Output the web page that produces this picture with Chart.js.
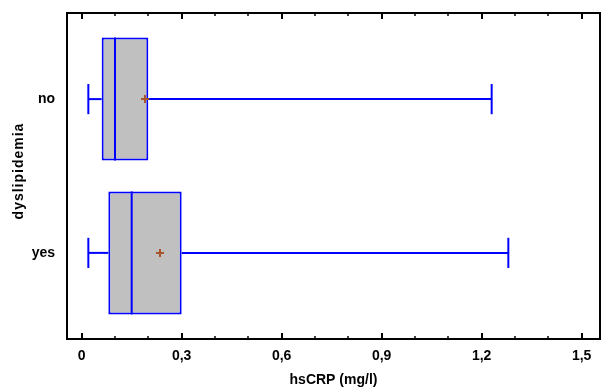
<!DOCTYPE html>
<html><head><meta charset="utf-8">
<script src="https://cdn.jsdelivr.net/npm/chart.js@4/dist/chart.umd.min.js"></script>
<style>html,body{margin:0;padding:0;background:#fff}#wrap{width:607px;height:390px}</style>
</head><body><div id="wrap"><canvas id="c" width="607" height="390"></canvas></div>
<script>
const categories = ['no', 'yes'];
const minValues = [0.02, 0.02];
const q1Values = [0.06, 0.08];
const medianValues = [0.10, 0.15];
const q3Values = [0.20, 0.30];
const maxValues = [1.23, 1.28];
const meanValues = [0.19, 0.235];
const xTickValues = [0, 0.3, 0.6, 0.9, 1.2, 1.5];
const xTickLabels = ['0', '0,3', '0,6', '0,9', '1,2', '1,5'];
const xMinorStep = 0.1;
const xMinorCount = 15;
const xTitle = 'hsCRP (mg/l)';
const yTitle = 'dyslipidemia';

const family = '"Liberation Sans", Arial, Helvetica, sans-serif';
const BLUE = '#0000FF';

const boxParts = {
  id: 'boxParts',
  afterDatasetDraw(chart, args) {
    if (args.index !== 0) return;
    const {ctx} = chart;
    const x = chart.scales.x, y = chart.scales.y;
    const line = (x1, y1, x2, y2) => { ctx.beginPath(); ctx.moveTo(x1, y1); ctx.lineTo(x2, y2); ctx.stroke(); };
    ctx.save();
    ctx.strokeStyle = BLUE;
    ctx.lineWidth = 2;
    categories.forEach((c, i) => {
      const yc = y.getPixelForValue(i);
      const capT = y.getPixelForValue(i - 0.098), capB = y.getPixelForValue(i + 0.098);
      const boxT = y.getPixelForValue(i - 0.4), boxB = y.getPixelForValue(i + 0.4);
      const pMin = x.getPixelForValue(minValues[i]);
      const pQ1 = x.getPixelForValue(q1Values[i]);
      const pQ3 = x.getPixelForValue(q3Values[i]);
      const pMax = x.getPixelForValue(maxValues[i]);
      const pMed = x.getPixelForValue(medianValues[i]);
      line(pMin, yc, pQ1, yc);
      line(pQ3, yc, pMax, yc);
      line(pMin, capT, pMin, capB);
      line(pMax, capT, pMax, capB);
      line(pMed, boxT, pMed, boxB);
    });
    ctx.restore();
  },
  afterDraw(chart) {
    const {ctx, chartArea: a} = chart;
    const x = chart.scales.x;
    ctx.save();
    ctx.strokeStyle = '#000';
    ctx.lineWidth = 2;
    ctx.strokeRect(a.left, a.top, a.right - a.left, a.bottom - a.top);
    for (let k = 0; k <= xMinorCount; k++) {
      const px = Math.round(x.getPixelForValue(k * xMinorStep));
      const major = k % 3 === 0;
      const len = major ? 6 : 3;
      ctx.lineWidth = major ? 2 : 1.5;
      ctx.beginPath();
      ctx.moveTo(px, a.bottom); ctx.lineTo(px, a.bottom - len);
      ctx.moveTo(px, a.top); ctx.lineTo(px, a.top + len);
      ctx.stroke();
    }
    ctx.translate(19.5, (a.top + a.bottom) / 2 - 5);
    ctx.rotate(-Math.PI / 2);
    ctx.font = 'bold 14px ' + family;
    try { ctx.letterSpacing = '1px'; } catch (e) {}
    ctx.fillStyle = '#000';
    ctx.textAlign = 'center';
    ctx.textBaseline = 'middle';
    ctx.fillText(yTitle, 0, 0);
    ctx.restore();
  }
};

new Chart(document.getElementById('c'), {
  data: {
    datasets: [
      {
        type: 'bar',
        indexAxis: 'y',
        order: 1,
        data: categories.map((c, i) => ({y: i, x: [q1Values[i], q3Values[i]]})),
        backgroundColor: '#C0C0C0',
        borderColor: BLUE,
        borderWidth: 2,
        borderSkipped: false,
        categoryPercentage: 0.8,
        barPercentage: 1.0
      },
      {
        type: 'scatter',
        order: 0,
        data: categories.map((c, i) => ({x: meanValues[i], y: i})),
        pointStyle: 'cross',
        radius: 4,
        borderColor: 'rgb(165,85,40)',
        backgroundColor: 'rgb(165,85,40)',
        borderWidth: 2
      }
    ]
  },
  options: {
    responsive: false,
    animation: false,
    devicePixelRatio: 1,
    layout: {padding: {left: 0, top: 13, right: 7, bottom: 0}},
    plugins: {legend: {display: false}, tooltip: {enabled: false}},
    scales: {
      x: {
        type: 'linear',
        position: 'bottom',
        offset: false,
        min: -0.044,
        max: 1.555,
        afterBuildTicks: s => { s.ticks = xTickValues.map(v => ({value: v})); },
        afterFit: s => { s.height = 51; s.paddingLeft = 0; s.paddingRight = 0; },
        ticks: {
          callback: (v, i) => xTickLabels[i],
          autoSkip: false, maxRotation: 0, padding: 9, color: '#000',
          font: {family: family, size: 14, weight: 'bold'}
        },
        grid: {display: false, drawTicks: false, offset: false},
        border: {display: false},
        title: {
          display: true, text: xTitle, color: '#000',
          font: {family: family, size: 14, weight: 'bold'},
          padding: {top: 0, bottom: 1}
        }
      },
      y: {
        type: 'linear',
        reverse: true,
        offset: false,
        min: -0.56,
        max: 1.56,
        afterBuildTicks: s => { s.ticks = categories.map((c, i) => ({value: i})); },
        afterFit: s => { s.width = 67; s.paddingTop = 0; s.paddingBottom = 0; },
        ticks: {
          callback: (v, i) => categories[i],
          autoSkip: false, padding: 12, color: '#000',
          font: {family: family, size: 14, weight: 'bold'}
        },
        grid: {display: false, drawTicks: false, offset: false},
        border: {display: false}
      }
    }
  },
  plugins: [boxParts]
});
</script>
</body></html>
